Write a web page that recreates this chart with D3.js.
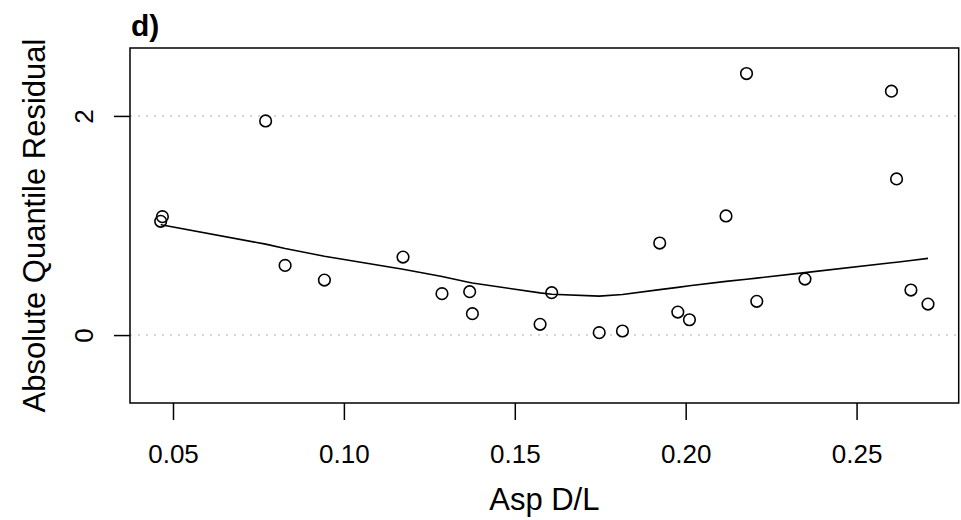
<!DOCTYPE html>
<meta charset="utf-8">
<style>
  body { margin: 0; background: #fff; }
  svg { display: block; font-family: "Liberation Sans", Arial, sans-serif; }
  .frame { fill: none; stroke: #000; stroke-width: 1.5px; }
  .grid-line { stroke: #c8c8c8; stroke-width: 1.5px; stroke-dasharray: 2,6; }
  .axis path, .axis line { stroke: #000; stroke-width: 1.5px; }
  .axis text { font-size: 26px; fill: #000; }
  .pt { fill: none; stroke: #000; stroke-width: 1.6px; }
  .smooth { fill: none; stroke: #000; stroke-width: 1.6px; }
  .axis-title { font-size: 31px; fill: #000; text-anchor: middle; }
  .panel-label { font-size: 30px; font-weight: bold; fill: #000; }
</style>
<body>
<div id="vis"></div>
<script src="https://cdn.jsdelivr.net/npm/d3@7"></script>
<script>

// residuals against Asp D/L
const aspDL = [0.0464, 0.0469, 0.0771, 0.0828, 0.0943, 0.1173, 0.1287, 0.1368, 0.1376, 0.1574, 0.1608, 0.1747,
  0.1815, 0.1924, 0.1977, 0.2011, 0.2118, 0.2178, 0.2208, 0.2349, 0.2602, 0.2617, 0.2659, 0.2709];
const absResid = [1.038, 1.081, 1.954, 0.636, 0.502, 0.712, 0.378, 0.396, 0.195, 0.098, 0.387, 0.022,
  0.037, 0.840, 0.210, 0.140, 1.087, 2.387, 0.308, 0.511, 2.226, 1.425, 0.411, 0.283];
// smoother fitted at the same x values
const smoothFit = [1.01, 1.005, 0.83, 0.79, 0.72, 0.60, 0.535, 0.48, 0.475, 0.385, 0.372, 0.355,
  0.37, 0.415, 0.435, 0.45, 0.49, 0.51, 0.52, 0.57, 0.66, 0.665, 0.68, 0.70];
const xTicks = [0.05, 0.10, 0.15, 0.20, 0.25];
const yTicks = [0, 2];
const gridAt = [0, 2];
const yLim = [-0.5, 2.5];

const width = 961,
    height = 520;
let margin = {l: 130, r: 2.3, t: 48, b: 117};

// R style 4% range extension
const extend = (lo, hi) => {
  let d = (hi - lo) * 0.04;
  return [lo - d, hi + d];
};

const x = d3.scaleLinear()
    .domain(extend(d3.min(aspDL), d3.max(aspDL)))
    .range([margin.l, width - margin.r]);
const y = d3.scaleLinear()
    .domain(extend(yLim[0], yLim[1]))
    .range([height - margin.b, margin.t]);

const svg = d3.select('#vis').append('svg')
    .attr('width', width)
    .attr('height', height);

svg.selectAll('.grid-line')
    .data(gridAt)
    .enter().append('line')
    .attr('class', 'grid-line')
    .attr('x1', margin.l)
    .attr('x2', width - margin.r)
    .attr('y1', d => y(d))
    .attr('y2', d => y(d));

const xAxis = svg.append('g')
    .attr('class', 'axis')
    .attr('transform', 'translate(0,' + (height - margin.b) + ')')
    .call(d3.axisBottom(x).tickValues(xTicks).tickFormat(d3.format('.2f')).tickSize(17).tickSizeOuter(0));
xAxis.select('.domain').remove();
xAxis.selectAll('text').attr('dy', null).attr('y', 60);

const yAxis = svg.append('g')
    .attr('class', 'axis')
    .attr('transform', 'translate(' + margin.l + ',0)')
    .call(d3.axisLeft(y).tickValues(yTicks).tickFormat(d3.format('d')).tickSize(16).tickSizeOuter(0));
yAxis.select('.domain').remove();
yAxis.selectAll('text')
    .attr('x', null).attr('dy', null)
    .style('text-anchor', 'middle')
    .attr('transform', 'translate(-37,0) rotate(-90)');

svg.append('rect')
    .attr('class', 'frame')
    .attr('x', margin.l)
    .attr('y', margin.t)
    .attr('width', width - margin.l - margin.r)
    .attr('height', height - margin.t - margin.b);

const line = d3.line()
    .x((d, i) => x(aspDL[i]))
    .y(d => y(d));
svg.append('path')
    .attr('class', 'smooth')
    .attr('d', line(smoothFit));

svg.selectAll('.pt')
    .data(aspDL)
    .enter().append('circle')
    .attr('class', 'pt')
    .attr('r', 5.8)
    .attr('cx', d => x(d))
    .attr('cy', (d, i) => y(absResid[i]));

svg.append('text')
    .attr('class', 'axis-title')
    .attr('x', (margin.l + width - margin.r) / 2)
    .attr('y', 510)
    .text('Asp D/L');

svg.append('text')
    .attr('class', 'axis-title')
    .attr('transform', 'translate(45,' + ((margin.t + height - margin.b) / 2) + ') rotate(-90)')
    .text('Absolute Quantile Residual');

svg.append('text')
    .attr('class', 'panel-label')
    .attr('x', 131)
    .attr('y', 36)
    .text('d)');

</script>
</body>
